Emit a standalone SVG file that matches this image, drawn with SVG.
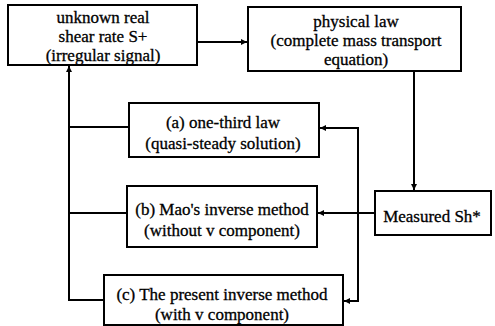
<svg xmlns="http://www.w3.org/2000/svg" width="495" height="326" viewBox="0 0 495 326">
<defs>
<marker id="ah" viewBox="0 0 10 10" refX="10" refY="5" markerWidth="6" markerHeight="6" markerUnits="userSpaceOnUse" orient="auto">
<path d="M0,0 L10,5 L0,10 z" fill="#000"/>
</marker>
<style>
.box{fill:#fff;stroke:#000;stroke-width:2}
.t{font-family:'Liberation Serif','DejaVu Serif','Times New Roman',serif;font-size:17px;fill:#000;stroke:#000;stroke-width:0.3;text-anchor:middle}
.c{fill:none;stroke:#000;stroke-width:2}
</style>
</defs>
<rect width="495" height="326" fill="#fff"/>
<g id="connectors">
<path class="c" d="M197,42 H247" marker-end="url(#ah)"/>
<path class="c" d="M414,72 V190" marker-end="url(#ah)"/>
<path class="c" d="M375,213 H318" marker-end="url(#ah)"/>
<path class="c" d="M358,213 V128 H320" marker-end="url(#ah)"/>
<path class="c" d="M358,213 V301 H344" marker-end="url(#ah)"/>
<path class="c" d="M129,127 H69"/>
<path class="c" d="M127,213 H69"/>
<path class="c" d="M104,300 H69 V66" marker-end="url(#ah)"/>
</g>
<g id="n1">
<rect class="box" x="8" y="5" width="189" height="60"/>
<text class="t" x="103" y="23">unknown real</text>
<text class="t" x="103" y="42">shear rate  S+</text>
<text class="t" x="103" y="61">(irregular signal)</text>
</g>
<g id="n2">
<rect class="box" x="248" y="7" width="213" height="64"/>
<text class="t" x="356" y="27">physical law</text>
<text class="t" x="356" y="46">(complete mass transport</text>
<text class="t" x="356" y="65">equation)</text>
</g>
<g id="na">
<rect class="box" x="129" y="103" width="190" height="54"/>
<text class="t" x="223" y="128">(a) one-third law</text>
<text class="t" x="223" y="149">(quasi-steady solution)</text>
</g>
<g id="nb">
<rect class="box" x="127" y="186" width="190" height="61"/>
<text class="t" x="222" y="215">(b) Mao's inverse method</text>
<text class="t" x="222" y="236">(without v component)</text>
</g>
<g id="nc">
<rect class="box" x="104" y="275" width="239" height="50"/>
<text class="t" x="222" y="300">(c) The present inverse method</text>
<text class="t" x="222" y="320">(with v component)</text>
</g>
<g id="nm">
<rect class="box" x="375" y="191" width="116" height="44"/>
<text class="t" x="432" y="222">Measured Sh*</text>
</g>
</svg>
